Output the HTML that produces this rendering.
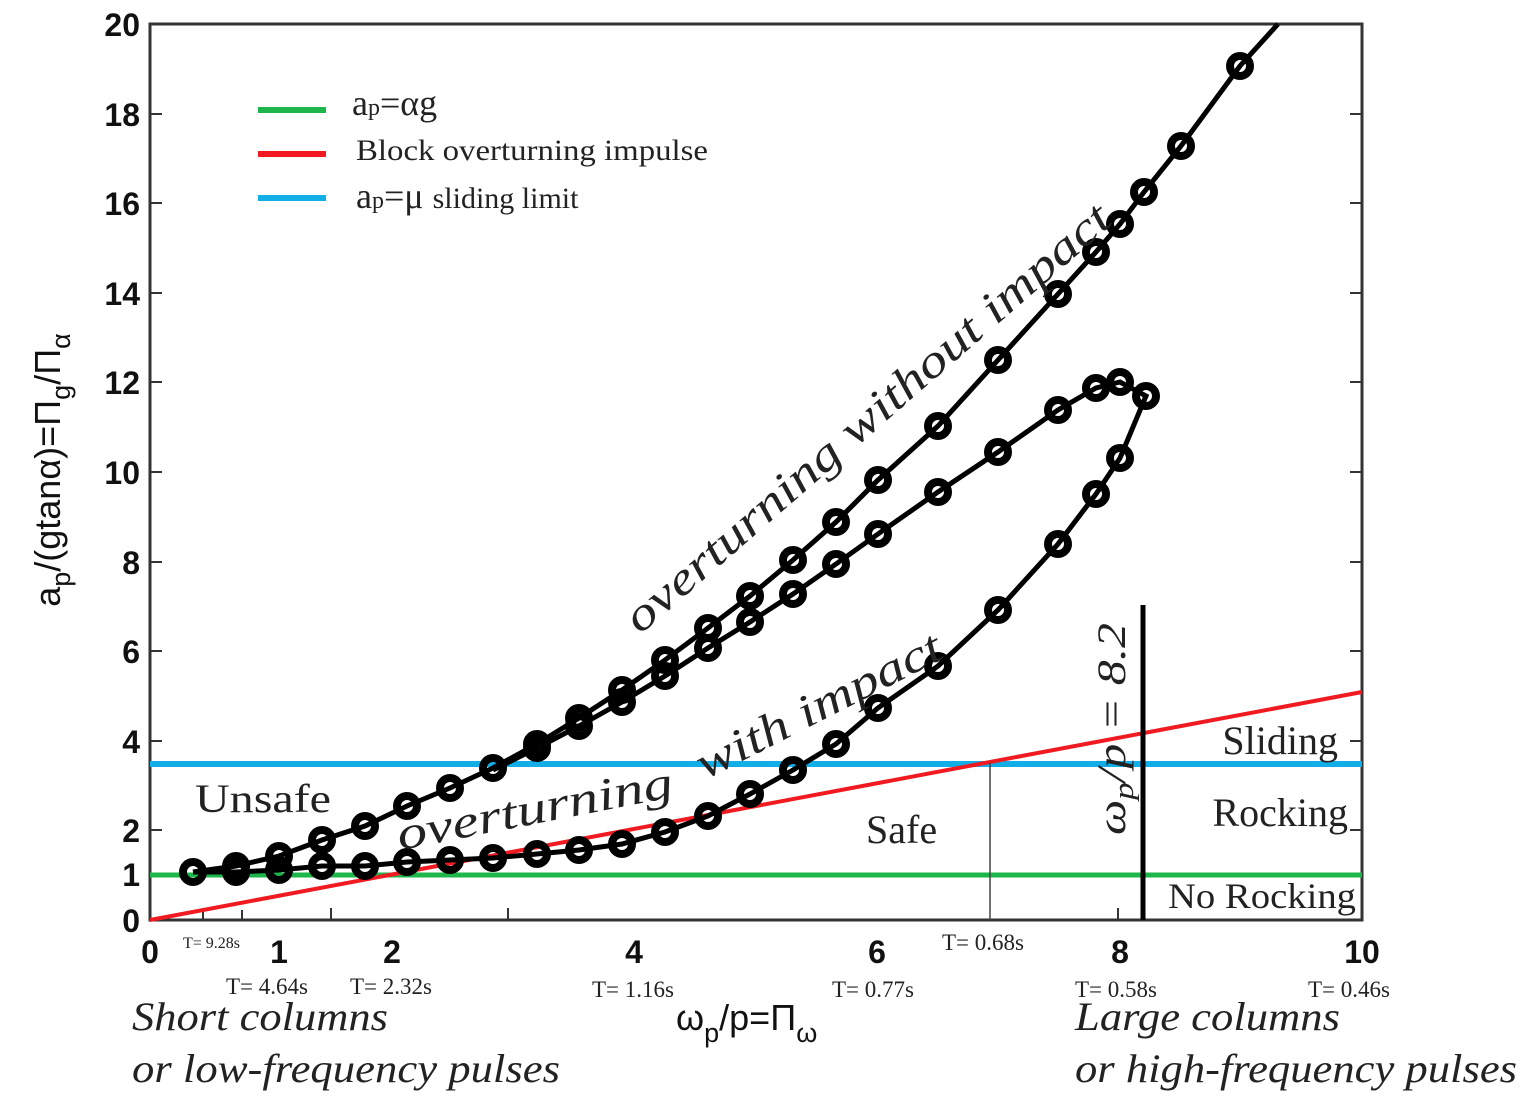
<!DOCTYPE html>
<html><head><meta charset="utf-8"><style>
html,body{margin:0;padding:0;background:#fff;}
svg{display:block;}
.ax{font-family:"Liberation Sans",sans-serif;font-size:32px;fill:#111;font-weight:bold;}
.tt{font-family:"Liberation Sans",sans-serif;fill:#111;font-weight:normal;}
.sr{font-family:"Liberation Serif",serif;fill:#222;}
</style></head><body>
<svg width="1530" height="1113" viewBox="0 0 1530 1113" xmlns="http://www.w3.org/2000/svg">
<rect x="150" y="24" width="1212" height="896" fill="none" stroke="#333" stroke-width="3"/>
<g stroke="#333" stroke-width="2">
<line x1="150" y1="830" x2="162" y2="830"/><line x1="150" y1="741" x2="162" y2="741"/><line x1="150" y1="651" x2="162" y2="651"/><line x1="150" y1="562" x2="162" y2="562"/><line x1="150" y1="472" x2="162" y2="472"/><line x1="150" y1="382" x2="162" y2="382"/><line x1="150" y1="293" x2="162" y2="293"/><line x1="150" y1="203" x2="162" y2="203"/><line x1="150" y1="114" x2="162" y2="114"/>
<line x1="1362" y1="830" x2="1350" y2="830"/><line x1="1362" y1="741" x2="1350" y2="741"/><line x1="1362" y1="651" x2="1350" y2="651"/><line x1="1362" y1="562" x2="1350" y2="562"/><line x1="1362" y1="472" x2="1350" y2="472"/><line x1="1362" y1="382" x2="1350" y2="382"/><line x1="1362" y1="293" x2="1350" y2="293"/><line x1="1362" y1="203" x2="1350" y2="203"/><line x1="1362" y1="114" x2="1350" y2="114"/>
<line x1="203" y1="920" x2="203" y2="910"/><line x1="242" y1="920" x2="242" y2="910"/><line x1="331" y1="920" x2="331" y2="908"/><line x1="508" y1="920" x2="508" y2="908"/><line x1="1118" y1="920" x2="1118" y2="908"/>
</g>
<g class="ax" text-anchor="end">
<text x="140" y="932">0</text><text x="140" y="886">1</text><text x="140" y="842">2</text><text x="140" y="753">4</text><text x="140" y="663">6</text><text x="140" y="574">8</text><text x="140" y="484">10</text><text x="140" y="394">12</text><text x="140" y="305">14</text><text x="140" y="215">16</text><text x="140" y="126">18</text><text x="140" y="36">20</text>
</g>
<g class="ax" text-anchor="middle">
<text x="150" y="963">0</text><text x="279" y="963">1</text><text x="392" y="963">2</text><text x="634" y="963">4</text><text x="877" y="963">6</text><text x="1120" y="963">8</text><text x="1362" y="963">10</text>
</g>
<text class="tt" transform="translate(60,470) rotate(-90)" text-anchor="middle" font-size="36">a<tspan font-size="27" dy="10">p</tspan><tspan dy="-10">/(gtanα)=Π</tspan><tspan font-size="27" dy="10">g</tspan><tspan dy="-10">/Π</tspan><tspan font-size="27" dy="10">α</tspan></text>
<text class="tt" x="676" y="1030" font-size="36">ω<tspan font-size="27" dy="12">p</tspan><tspan dy="-12">/p=Π</tspan><tspan font-size="27" dy="12">ω</tspan></text>
<g class="sr" font-size="23">
<text x="183" y="948" font-size="16">T= 9.28s</text>
<text x="226" y="994">T= 4.64s</text><text x="350" y="994">T= 2.32s</text><text x="592" y="997">T= 1.16s</text><text x="832" y="997">T= 0.77s</text><text x="942" y="950">T= 0.68s</text><text x="1075" y="997">T= 0.58s</text><text x="1308" y="997">T= 0.46s</text>
</g>
<g class="sr" font-size="40" font-style="italic" fill="#333">
<text x="132" y="1030" textLength="256" lengthAdjust="spacingAndGlyphs">Short columns</text><text x="132" y="1082" textLength="428" lengthAdjust="spacingAndGlyphs">or low-frequency pulses</text>
<text x="1075" y="1030" textLength="265" lengthAdjust="spacingAndGlyphs">Large columns</text><text x="1075" y="1082" textLength="442" lengthAdjust="spacingAndGlyphs">or high-frequency pulses</text>
</g>
<line x1="150" y1="875" x2="1362" y2="875" stroke="#1db64a" stroke-width="5"/>
<line x1="150" y1="764" x2="1362" y2="764" stroke="#12aee8" stroke-width="6"/>
<line x1="150" y1="920" x2="1362" y2="692" stroke="#f01a20" stroke-width="4"/>
<line x1="990" y1="763" x2="990" y2="920" stroke="#444" stroke-width="1.5"/>
<line x1="1143" y1="605" x2="1143" y2="920" stroke="#000" stroke-width="5"/>
<g fill="none" stroke="#000" stroke-width="5">
<polyline points="193,872 236,866 279,856 322,840 365,826 407,806 450,788 493,768 537,744 579,718 622,690 665,660 708,628 750,596 793,560 836,522 878,480 938,426 998,360 1058,294 1096,252 1120,224 1144,192 1181,146 1240,66 1278,24"/>
<polyline points="193,872 236,872 279,870 322,866 365,866 407,862 450,860 493,858 537,854 579,850 622,844 665,832 708,816 750,794 793,770 836,744 878,708 938,666 998,610 1058,544 1096,494 1120,458 1146,396 1120,382 1096,388 1058,410 998,452 938,492 878,534 836,564 793,594 750,622 708,648 665,676 622,702 579,726 537,748 493,770"/>
</g>
<g fill="none" stroke="#000" stroke-width="8">
<circle cx="193" cy="872" r="10"/><circle cx="236" cy="866" r="10"/><circle cx="279" cy="856" r="10"/><circle cx="322" cy="840" r="10"/><circle cx="365" cy="826" r="10"/><circle cx="407" cy="806" r="10"/><circle cx="450" cy="788" r="10"/><circle cx="493" cy="768" r="10"/><circle cx="537" cy="744" r="10"/><circle cx="579" cy="718" r="10"/><circle cx="622" cy="690" r="10"/><circle cx="665" cy="660" r="10"/><circle cx="708" cy="628" r="10"/><circle cx="750" cy="596" r="10"/><circle cx="793" cy="560" r="10"/><circle cx="836" cy="522" r="10"/><circle cx="878" cy="480" r="10"/><circle cx="938" cy="426" r="10"/><circle cx="998" cy="360" r="10"/><circle cx="1058" cy="294" r="10"/><circle cx="1096" cy="252" r="10"/><circle cx="1120" cy="224" r="10"/><circle cx="1144" cy="192" r="10"/><circle cx="1181" cy="146" r="10"/><circle cx="1240" cy="66" r="10"/>
<circle cx="236" cy="872" r="10"/><circle cx="279" cy="870" r="10"/><circle cx="322" cy="866" r="10"/><circle cx="365" cy="866" r="10"/><circle cx="407" cy="862" r="10"/><circle cx="450" cy="860" r="10"/><circle cx="493" cy="858" r="10"/><circle cx="537" cy="854" r="10"/><circle cx="579" cy="850" r="10"/><circle cx="622" cy="844" r="10"/><circle cx="665" cy="832" r="10"/><circle cx="708" cy="816" r="10"/><circle cx="750" cy="794" r="10"/><circle cx="793" cy="770" r="10"/><circle cx="836" cy="744" r="10"/><circle cx="878" cy="708" r="10"/><circle cx="938" cy="666" r="10"/><circle cx="998" cy="610" r="10"/><circle cx="1058" cy="544" r="10"/><circle cx="1096" cy="494" r="10"/><circle cx="1120" cy="458" r="10"/><circle cx="1146" cy="396" r="10"/><circle cx="1120" cy="382" r="10"/><circle cx="1096" cy="388" r="10"/><circle cx="1058" cy="410" r="10"/><circle cx="998" cy="452" r="10"/><circle cx="938" cy="492" r="10"/><circle cx="878" cy="534" r="10"/><circle cx="836" cy="564" r="10"/><circle cx="793" cy="594" r="10"/><circle cx="750" cy="622" r="10"/><circle cx="708" cy="648" r="10"/><circle cx="665" cy="676" r="10"/><circle cx="622" cy="702" r="10"/><circle cx="579" cy="726" r="10"/><circle cx="537" cy="748" r="10"/>
</g>
<g class="sr" font-size="40" fill="#333">
<text x="195" y="812" textLength="136" lengthAdjust="spacingAndGlyphs">Unsafe</text><text x="866" y="843">Safe</text>
<text x="1338" y="754" text-anchor="end">Sliding</text><text x="1348" y="826" text-anchor="end">Rocking</text><text x="1356" y="908" text-anchor="end" font-size="36" textLength="188" lengthAdjust="spacingAndGlyphs">No Rocking</text>
</g>
<g class="sr" font-size="46" font-style="italic" fill="#333">
<text transform="translate(640,635) rotate(-41)" textLength="628" lengthAdjust="spacingAndGlyphs">overturning without impact</text>
<text transform="translate(400,850) rotate(-11)" textLength="280" lengthAdjust="spacingAndGlyphs">overturning</text>
<text transform="translate(705,780) rotate(-27)" textLength="270" lengthAdjust="spacingAndGlyphs">with impact</text>
<text transform="translate(1125,835) rotate(-90)" font-size="40" textLength="212" lengthAdjust="spacingAndGlyphs">ω<tspan font-size="28" dy="8">p</tspan><tspan dy="-8">/p = 8.2</tspan></text>
</g>
<line x1="258" y1="110" x2="326" y2="110" stroke="#1db64a" stroke-width="6"/>
<line x1="258" y1="154" x2="326" y2="154" stroke="#f01a20" stroke-width="6"/>
<line x1="258" y1="198" x2="326" y2="198" stroke="#12aee8" stroke-width="6"/>
<g class="sr" fill="#222">
<text x="352" y="115" font-size="36">a<tspan font-size="24">p</tspan>=αg</text>
<text x="356" y="160" font-size="30" textLength="352" lengthAdjust="spacingAndGlyphs">Block overturning impulse</text>
<text x="356" y="208" font-size="36">a<tspan font-size="24">p</tspan>=μ <tspan font-size="30">sliding limit</tspan></text>
</g>
</svg>
</body></html>
